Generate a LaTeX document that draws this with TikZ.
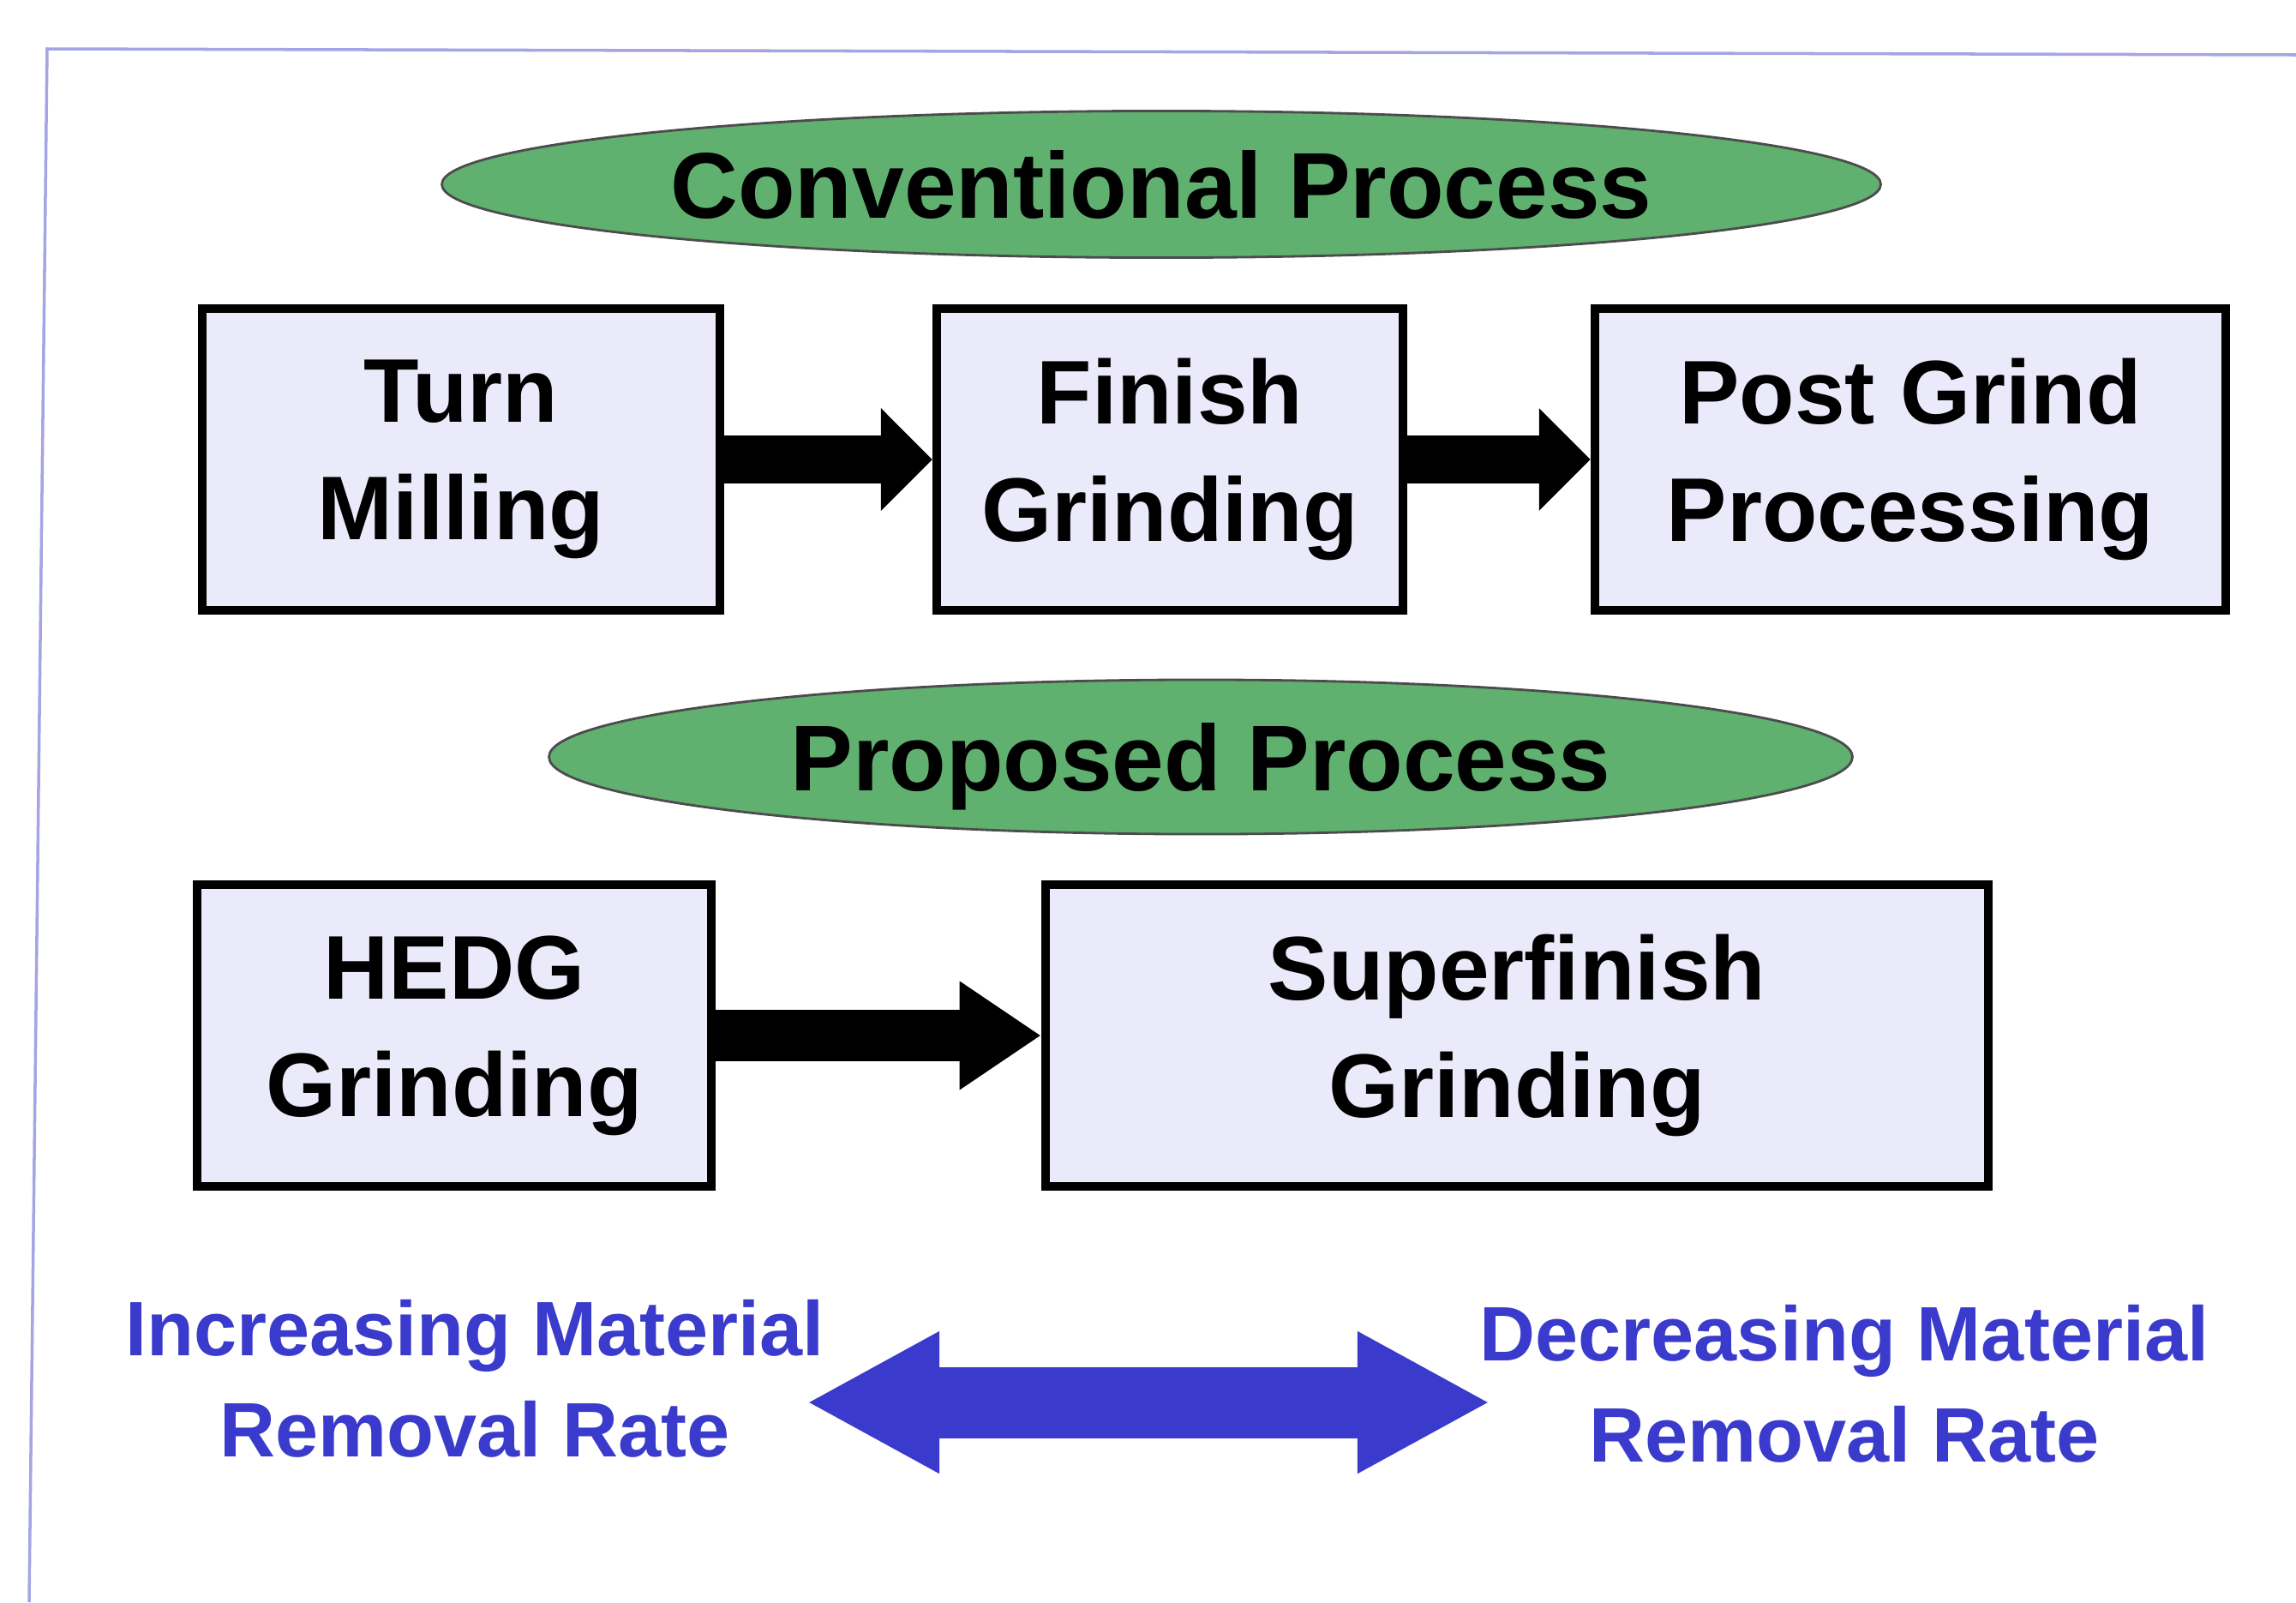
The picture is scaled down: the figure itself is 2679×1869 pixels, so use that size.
\documentclass[tikz,border=0pt]{standalone}
\usepackage{fontspec}
\setmainfont{Liberation Sans}
\usetikzlibrary{shapes.geometric}
\usetikzlibrary{arrows.meta}

\definecolor{boxfill}{RGB}{234,234,250}
\definecolor{procgreen}{RGB}{96,176,112}
\definecolor{rateblue}{RGB}{58,58,205}
\definecolor{framecol}{RGB}{165,165,230}

\begin{document}
\begin{tikzpicture}[
     x=0.01cm, y=-0.01cm,
     stage/.style={draw, line width=2.8pt, fill=boxfill, align=center,
       inner sep=0pt, minimum height=3.52cm,
       font=\bfseries\fontsize{30}{39}\selectfont},
     banner/.style={ellipse, draw=black!70, line width=0.8pt, fill=procgreen,
       inner sep=0pt, text depth=0pt,
       font=\bfseries\fontsize{31}{37}\selectfont},
     rate/.style={align=center, inner sep=0pt, text=rateblue,
       font=\bfseries\fontsize{25.6}{33.5}\selectfont},
     flow/.style={line width=0.55cm, -{Triangle[length=0.6cm,width=1.16cm]}}
   ]
   \path[use as bounding box] (0,0) rectangle (2679,1869);
   % Frame.
   \draw[framecol, line width=1pt] (34,1869) -- (55,57) -- (2679,64);
   % Conventional process.
   \node[banner, minimum width=16.78cm, minimum height=1.71cm] (conv) at (1355,215) {Conventional Process};
   \node[stage, minimum width=6.04cm] (turn) at (538,536) {Turn\\Milling};
   \node[stage, minimum width=5.44cm] (finish) at (1365,536) {Finish\\Grinding};
   \node[stage, minimum width=7.36cm] (post) at (2229,536) {Post Grind\\Processing};
   \draw[flow] (turn) -- (finish);
   \draw[flow] (finish) -- (post);
   % Proposed process.
   \node[banner, minimum width=15.2cm, minimum height=1.8cm] (prop) at (1401,883) {Proposed Process};
   \node[stage, minimum width=6.0cm] (hedg) at (530,1208) {HEDG\\Grinding};
   \node[stage, minimum width=11.0cm] (super) at (1770,1208) {Superfinish\\Grinding};
   \draw[flow, line width=0.6cm, -{Triangle[length=0.95cm,width=1.2cm]}] (hedg) -- (super);
   % Removal rate.
   \node[rate] (inc) at (554,1608) {Increasing Material\\Removal Rate};
   \node[rate] (dec) at (2152,1614) {Decreasing Material\\Removal Rate};
   \coordinate (lo) at (941,1636);
   \coordinate (hi) at (1739,1636);
   \draw[rateblue, line width=0.83cm,
     {Triangle[length=1.55cm,width=1.54cm]}-{Triangle[length=1.55cm,width=1.54cm]}] (lo) -- (hi);
\end{tikzpicture}
\end{document}
